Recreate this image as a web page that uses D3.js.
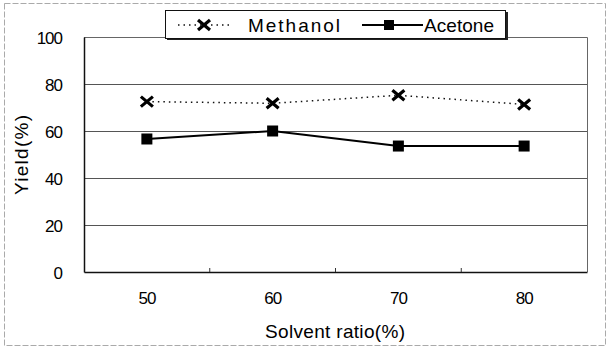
<!DOCTYPE html>
<html><head><meta charset="utf-8">
<script src="https://cdn.jsdelivr.net/npm/d3@7"></script>
<style>html,body{margin:0;padding:0;background:#fff;}svg{display:block;font-family:"Liberation Sans",Arial,sans-serif;}</style>
</head><body>
<svg id="c" width="610" height="348"></svg>
<script>
const categories = ["50","60","70","80"];
const methanol = [72.5, 71.8, 75.2, 71.3];
const acetone = [56.6, 60.0, 53.6, 53.6];
const yTicks = [0,20,40,60,80,100];
const seriesNames = ["Methanol","Acetone"];

const svg = d3.select("#c");
const L=84, R=587, T=37, B=272;
const x = d3.scaleBand().domain(categories).range([L,R]).padding(0);
const y = d3.scaleLinear().domain([0,100]).range([B,T]);

// outer dashed frame
svg.append("rect").attr("x",4.5).attr("y",3.5).attr("width",601).attr("height",342)
  .attr("fill","none").attr("stroke","#aaa").attr("stroke-width",1).attr("stroke-dasharray","6,2");

// gridlines
svg.append("g").selectAll("line").data(yTicks.filter(d=>d>0&&d<100)).join("line")
  .attr("x1",L).attr("x2",R).attr("y1",d=>y(d)+0.5).attr("y2",d=>y(d)+0.5)
  .attr("stroke","#555").attr("stroke-width",1);
// top & right border
svg.append("path").attr("d",`M${L},${y(100)+0.5}H${R+0.5}V${B}`).attr("fill","none").attr("stroke","#666").attr("stroke-width",1);

// axes
const yAxis = d3.axisLeft(y).tickValues(yTicks).tickSize(0).tickPadding(22);
const gy = svg.append("g").attr("transform",`translate(${L},0)`).call(yAxis);
gy.select(".domain").attr("stroke","#111").attr("stroke-width",1.5);
gy.selectAll("text").attr("font-size",17).attr("letter-spacing",-1).attr("fill","#000").attr("dy","0.36em");

const xAxis = d3.axisBottom(x).tickSize(0).tickPadding(20);
const gx = svg.append("g").attr("transform",`translate(0,${B})`).call(xAxis);
gx.select(".domain").attr("stroke","#111").attr("stroke-width",1.5);
gx.selectAll("text").attr("font-size",17).attr("letter-spacing",-1).attr("fill","#000").attr("dy","0.71em");
// tick marks at band boundaries
svg.append("g").selectAll("line").data(categories.slice(1)).join("line")
  .attr("x1",d=>x(d)).attr("x2",d=>x(d)).attr("y1",B).attr("y2",B-4)
  .attr("stroke","#333").attr("stroke-width",1);

// titles
svg.append("text").attr("x",335).attr("y",338).attr("text-anchor","middle")
  .attr("font-size",19).attr("fill","#000").attr("textLength",140).attr("lengthAdjust","spacing").text("Solvent ratio(%)");
svg.append("text").attr("transform","translate(28,155) rotate(-90)").attr("text-anchor","middle")
  .attr("font-size",19).attr("fill","#000").attr("textLength",80).attr("lengthAdjust","spacing").text("Yield(%)");

const cx = d=>x(d)+x.bandwidth()/2;
// Methanol
const lineM = d3.line().x((d,i)=>cx(categories[i])).y(d=>y(d));
svg.append("path").attr("d",lineM(methanol)).attr("fill","none").attr("stroke","#111")
  .attr("stroke-width",1.5).attr("stroke-dasharray","1.5,4");
function drawX(g,px,py){
  g.append("path").attr("d",`M${px-6},${py-5}L${px+6},${py+5}M${px-6},${py+5}L${px+6},${py-5}`)
    .attr("stroke","#000").attr("stroke-width",3.2).attr("fill","none");
}
const gm = svg.append("g");
methanol.forEach((v,i)=>drawX(gm,cx(categories[i]),y(v)));
// Acetone
svg.append("path").attr("d",lineM(acetone)).attr("fill","none").attr("stroke","#000").attr("stroke-width",2);
svg.append("g").selectAll("rect").data(acetone).join("rect")
  .attr("x",(d,i)=>cx(categories[i])-5.5).attr("y",d=>y(d)-5.5).attr("width",11).attr("height",11).attr("fill","#000");

// legend
const lg = svg.append("g");
lg.append("rect").attr("x",167).attr("y",12).attr("width",341).attr("height",28).attr("fill","#222");
lg.append("rect").attr("x",165.5).attr("y",10.5).attr("width",340).attr("height",28).attr("fill","#fff").attr("stroke","#111").attr("stroke-width",1);
lg.append("line").attr("x1",178).attr("x2",232).attr("y1",25).attr("y2",25).attr("stroke","#111").attr("stroke-width",1.5).attr("stroke-dasharray","1.5,4");
drawX(lg,204,25);
lg.append("text").attr("x",248).attr("y",31.5).attr("font-size",19).attr("fill","#000").attr("textLength",92).attr("lengthAdjust","spacing").text(seriesNames[0]);
lg.append("line").attr("x1",362).attr("x2",423).attr("y1",25).attr("y2",25).attr("stroke","#000").attr("stroke-width",2);
lg.append("rect").attr("x",384).attr("y",20).attr("width",10).attr("height",10).attr("fill","#000");
lg.append("text").attr("x",424).attr("y",31.5).attr("font-size",19).attr("fill","#000").attr("textLength",70).attr("lengthAdjust","spacing").text(seriesNames[1]);
</script>
</body></html>
